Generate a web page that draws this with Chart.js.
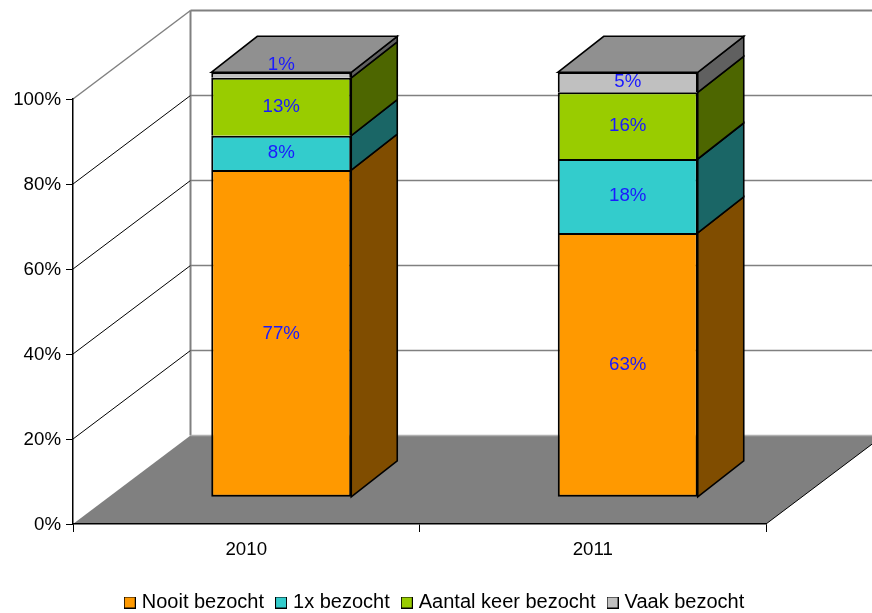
<!DOCTYPE html>
<html>
<head>
<meta charset="utf-8">
<script src="https://cdn.jsdelivr.net/npm/chart.js@4"></script>
<style>
  html, body { margin: 0; padding: 0; background: #fff; }
  canvas { display: block; }
</style>
</head>
<body>
<canvas id="chart" width="872" height="613"></canvas>
<script>
// categorieen en waarden (hoogte van elk segment in %)
const categories = ['2010', '2011'];
const nooit = [77.0, 62.2];
const eenmaal = [8.1, 17.4];
const aantalKeer = [13.6, 15.7];
const vaak = [1.3, 4.7];
// tekst op de balken
const nooitLabels = ['77%', '63%'];
const eenmaalLabels = ['8%', '18%'];
const aantalKeerLabels = ['13%', '16%'];
const vaakLabels = ['1%', '5%'];
const yTicks = [0, 20, 40, 60, 80, 100];

const FONT = '"Liberation Sans", Arial, sans-serif';
const FONT_SIZE = 18.7;
const LEGEND_SIZE = 20;

// diepte van de 3D-doos en van de balken
const wall = { dx: 117.5, dy: -88.5 };
const bar3d = { dx: 46, dy: -36 };
const barShift = { x: 35, y: -26.7 };

const series = [
  { label: 'Nooit bezocht', data: nooit, text: nooitLabels, color: '#ff9900', side: '#804d00' },
  { label: '1x bezocht', data: eenmaal, text: eenmaalLabels, color: '#33cccc', side: '#1a6666' },
  { label: 'Aantal keer bezocht', data: aantalKeer, text: aantalKeerLabels, color: '#99cc00', side: '#4d6600' },
  { label: 'Vaak bezocht', data: vaak, text: vaakLabels, color: '#c0c0c0', side: '#606060' }
];

// legendablokje als los canvasje, zo staat de tekst even dicht op het blokje als in het origineel
function legendBox(color) {
  const c = document.createElement('canvas');
  c.width = 12; c.height = 12;
  const g = c.getContext('2d');
  g.fillStyle = '#000';
  g.fillRect(0, 0, 12, 12);
  g.fillStyle = color;
  g.fillRect(1, 1, 10, 10);
  return c;
}

function poly(ctx, pts, fill, stroke, lw) {
  ctx.beginPath();
  pts.forEach((p, i) => i ? ctx.lineTo(p[0], p[1]) : ctx.moveTo(p[0], p[1]));
  ctx.closePath();
  if (fill) { ctx.fillStyle = fill; ctx.fill(); }
  if (stroke) { ctx.strokeStyle = stroke; ctx.lineWidth = lw; ctx.stroke(); }
}

function line(ctx, x1, y1, x2, y2, color, lw) {
  ctx.beginPath();
  ctx.moveTo(x1, y1);
  ctx.lineTo(x2, y2);
  ctx.strokeStyle = color;
  ctx.lineWidth = lw;
  ctx.stroke();
}

// muren en vloer, achter de assen
const box3d = {
  id: 'box3d',
  beforeDraw(chart) {
    const { ctx, chartArea: a, scales: { y } } = chart;
    const bx = a.left + wall.dx;
    const floorY = a.bottom + wall.dy;
    ctx.save();
    poly(ctx, [[a.left, a.bottom], [a.right, a.bottom], [a.right + wall.dx, floorY], [bx, floorY]], '#808080');
    line(ctx, bx, a.top + wall.dy, 872, a.top + wall.dy, '#808080', 2);
    line(ctx, bx, a.top + wall.dy, bx, floorY, '#808080', 2);
    line(ctx, bx, floorY, 872, floorY, '#b0b0b0', 1.5);
    yTicks.forEach(v => {
      const py = y.getPixelForValue(v);
      if (v > 0) {
        line(ctx, a.left, py, bx, py + wall.dy, v === 100 ? '#808080' : '#000', v === 100 ? 1.5 : 1);
        if (v < 100) line(ctx, bx, py + wall.dy, 872, py + wall.dy, '#808080', 1.5);
      }
    });
    line(ctx, a.right, a.bottom, a.right + wall.dx, floorY, '#000', 1);
    ctx.restore();
  },
  // balken staan midden in de diepte: alles een stukje naar achteren schuiven
  beforeDatasetsDraw(chart) {
    const { ctx } = chart;
    ctx.save();
    ctx.translate(barShift.x, barShift.y);
    series.forEach((s, i) => {
      chart.getDatasetMeta(i).data.forEach(el => {
        const r = el.x + el.width / 2;
        const l = el.x - el.width / 2;
        poly(ctx, [[r, el.y], [r + bar3d.dx, el.y + bar3d.dy], [r + bar3d.dx, el.base + bar3d.dy], [r, el.base]], s.side, '#000', 1.6);
        if (i === series.length - 1) {
          poly(ctx, [[l, el.y], [l + bar3d.dx, el.y + bar3d.dy], [r + bar3d.dx, el.y + bar3d.dy], [r, el.y]], '#909090', '#000', 1.6);
        }
      });
    });
  },
  afterDatasetsDraw(chart) {
    const { ctx } = chart;
    ctx.font = FONT_SIZE + 'px ' + FONT;
    ctx.fillStyle = '#1a1aff';
    ctx.textAlign = 'center';
    ctx.textBaseline = 'middle';
    series.forEach((s, i) => {
      chart.getDatasetMeta(i).data.forEach((el, j) => {
        const h = el.base - el.y;
        // te smal segment: label schuift omhoog, op het bovenvlak
        const up = h < 12 ? 10 : 0;
        ctx.fillText(s.text[j], el.x, (el.y + el.base) / 2 - up);
      });
    });
    ctx.restore();
  }
};

new Chart(document.getElementById('chart'), {
  type: 'bar',
  plugins: [box3d],
  data: {
    labels: categories,
    datasets: series.map((s, i) => ({
      label: s.label,
      data: s.data,
      backgroundColor: s.color,
      borderColor: '#000',
      borderWidth: { top: 2, left: 2, right: 2, bottom: i === 0 ? 2 : 0 },
      borderSkipped: false,
      barPercentage: 0.404,
      categoryPercentage: 1,
      clip: false
    }))
  },
  options: {
    responsive: false,
    animation: false,
    // onderrand negatief: de legenda staat in het origineel dicht op de rand
    layout: { padding: { left: 0, right: 0, top: 99, bottom: -9.5 } },
    font: { family: FONT },
    scales: {
      x: {
        stacked: true,
        afterFit(s) { s.height = 53.5; },
        border: { color: '#000', width: 1.5 },
        grid: { drawOnChartArea: false, color: '#000', tickLength: 8 },
        ticks: { color: '#000', padding: 7, maxRotation: 0, font: { family: FONT, size: FONT_SIZE } }
      },
      y: {
        stacked: true,
        min: 0,
        max: 100,
        afterFit(s) { s.width = 73; },
        afterBuildTicks(s) { s.ticks = yTicks.map(v => ({ value: v })); },
        border: { color: '#000', width: 1.5 },
        grid: { drawOnChartArea: false, color: '#000', tickLength: 7 },
        ticks: { color: '#000', padding: 5, labelOffset: 1, callback: v => v + '%', font: { family: FONT, size: FONT_SIZE } }
      },
      // lege as rechts: houdt ruimte vrij voor de doos die buiten het plotvlak loopt
      spacer: {
        axis: 'y',
        position: 'right',
        afterFit(s) { s.width = 106; },
        border: { display: false },
        grid: { display: false },
        ticks: { display: false }
      }
    },
    plugins: {
      tooltip: { enabled: false },
      legend: {
        position: 'bottom',
        labels: {
          usePointStyle: true,
          pointStyleWidth: 4,
          padding: 15,
          color: '#000',
          font: { family: FONT, size: LEGEND_SIZE },
          generateLabels(chart) {
            return Chart.defaults.plugins.legend.labels.generateLabels(chart).map((it, i) => {
              it.pointStyle = legendBox(series[i].color);
              return it;
            });
          }
        }
      }
    }
  }
});
</script>
</body>
</html>
